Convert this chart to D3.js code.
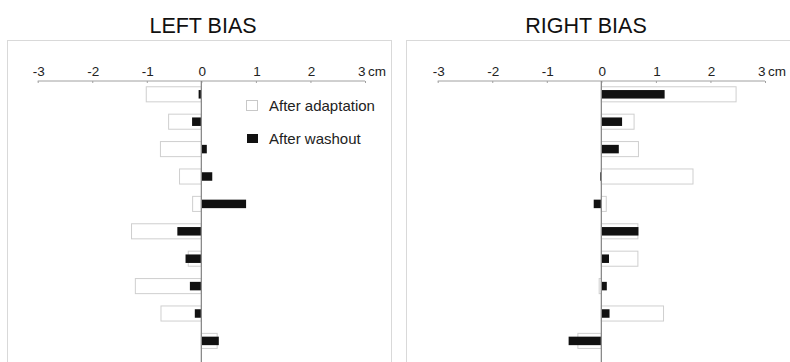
<!DOCTYPE html>
<html><head><meta charset="utf-8">
<script src="https://cdn.jsdelivr.net/npm/d3@7"></script>
<style>body{margin:0;background:#fff}svg{display:block;font-family:"Liberation Sans",Arial,Helvetica,sans-serif}</style>
</head><body>
<svg id="c" width="790" height="362"></svg>
<script>
const rows = [1,2,3,4,5,6,7,8,9,10];
const tickValues = [-3,-2,-1,0,1,2,3];
const tickLabels = ["-3","-2","-1","0","1","2","3"];
const unitLabel = "cm";
const legendLabels = ["After adaptation","After washout"];
const panelTitles = ["LEFT BIAS","RIGHT BIAS"];
const leftAdaptation = [-1.01,-0.60,-0.75,-0.40,-0.16,-1.28,-0.24,-1.21,-0.74,0.29];
const leftWashout    = [-0.05,-0.17,0.10,0.20,0.82,-0.44,-0.29,-0.21,-0.12,0.32];
const rightAdaptation = [2.47,0.60,0.68,1.68,0.09,0.67,0.67,-0.04,1.14,-0.43];
const rightWashout    = [1.16,0.38,0.32,-0.02,-0.14,0.68,0.14,0.10,0.15,-0.60];

const svg = d3.select("#c");
const panels = [
  {title: panelTitles[0], adapt: leftAdaptation, wash: leftWashout, x0: 37.7, x1: 365, box:[7.5,40.5,384,340], titleX: 203, legend: true},
  {title: panelTitles[1], adapt: rightAdaptation, wash: rightWashout, x0: 437.7, x1: 765, box:[406.5,40.5,400,340], titleX: 586, legend: false}
];
const axisY = 81;
const y = d3.scaleBand().domain(rows).range([80.6, 354.6]).paddingInner(0.45).paddingOuter(0.225);

panels.forEach(p => {
  const g = svg.append("g");
  const x = d3.scaleLinear().domain([-3,3]).range([p.x0, p.x1]);
  g.append("rect").attr("x",p.box[0]).attr("y",p.box[1]).attr("width",p.box[2]).attr("height",p.box[3])
    .attr("fill","none").attr("stroke","#d9d9d9").attr("stroke-width",1);
  g.append("text").attr("x",p.titleX).attr("y",33).attr("text-anchor","middle")
    .attr("font-size",21.5).attr("fill","#111").text(p.title);

  const bh = y.bandwidth();
  g.selectAll("rect.a").data(p.adapt).join("rect").attr("class","a")
    .attr("x", d => x(Math.min(0,d))).attr("width", d => Math.abs(x(d)-x(0)))
    .attr("y", (d,i) => y(rows[i])).attr("height", bh)
    .attr("fill","#fff").attr("stroke","#cfcfcf").attr("stroke-width",1);
  const wh = 8.5;
  g.selectAll("rect.w").data(p.wash).join("rect").attr("class","w")
    .attr("x", d => x(Math.min(0,d))).attr("width", d => Math.max(1.5, Math.abs(x(d)-x(0))))
    .attr("y", (d,i) => y(rows[i]) + bh/2 - wh/2).attr("height", wh)
    .attr("fill","#111");

  const ax = g.append("g").attr("transform",`translate(0,${axisY})`)
    .call(d3.axisBottom(x).tickValues(tickValues).tickSize(2).tickFormat(""));
  ax.select(".domain").attr("stroke","#a0a0a0").attr("d",`M${x(-3)},0H${x(3)}`);
  ax.selectAll(".tick line").attr("stroke","#a0a0a0");
  g.selectAll("text.t").data(tickValues).join("text").attr("class","t")
    .attr("x", d => d===3 ? x(d)+0.5 : x(d)+1).attr("y", axisY-5)
    .attr("text-anchor", d => d===3 ? "end" : "middle")
    .attr("font-size",13.5).attr("fill","#222")
    .text((d,i) => tickLabels[i]);
  g.append("text").attr("x", x(3)+3).attr("y", axisY-5).attr("font-size",13.5).attr("fill","#222").text(unitLabel);

  g.append("line").attr("x1",x(0)).attr("x2",x(0)).attr("y1",axisY).attr("y2",362)
    .attr("stroke","#8a8a8a").attr("stroke-width",1.3);

  if (p.legend) {
    const lg = g.append("g");
    lg.append("rect").attr("x",246.5).attr("y",100.5).attr("width",11).attr("height",10)
      .attr("fill","#fff").attr("stroke","#c8c8c8");
    lg.append("rect").attr("x",247).attr("y",134).attr("width",11).attr("height",9).attr("fill","#111");
    lg.append("text").attr("x",269).attr("y",110.5).attr("font-size",15).attr("fill","#222").text(legendLabels[0]);
    lg.append("text").attr("x",269).attr("y",144).attr("font-size",15).attr("fill","#222").text(legendLabels[1]);
  }
});
</script>
</body></html>
